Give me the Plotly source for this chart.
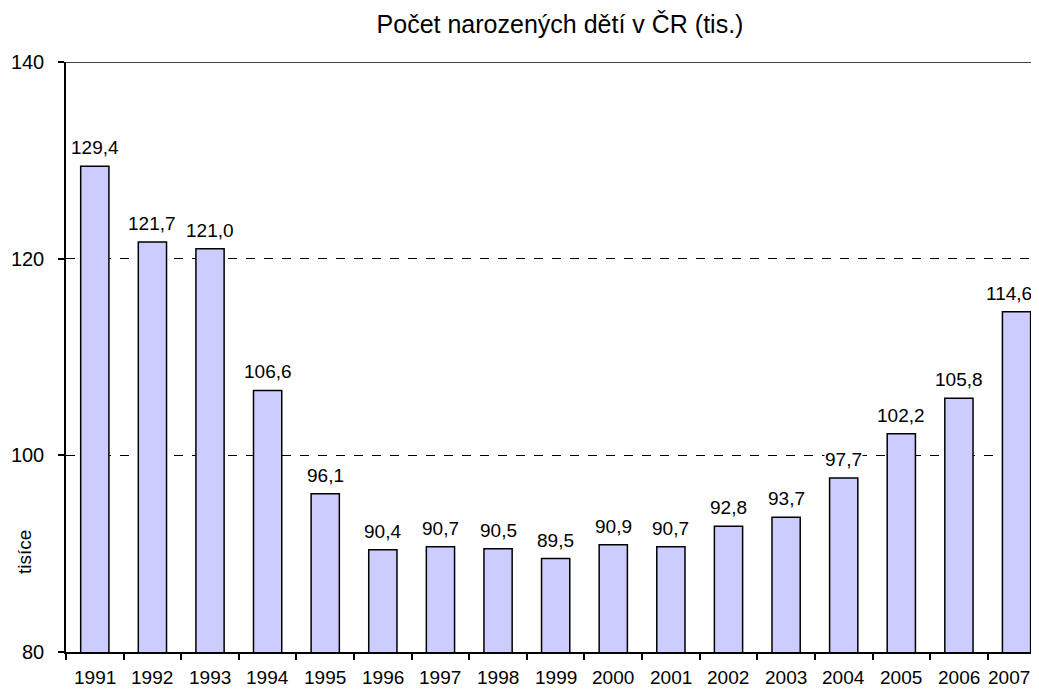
import plotly.graph_objects as go

years = ["1991", "1992", "1993", "1994", "1995", "1996", "1997", "1998", "1999",
         "2000", "2001", "2002", "2003", "2004", "2005", "2006", "2007"]
births = [129.4, 121.7, 121.0, 106.6, 96.1, 90.4, 90.7, 90.5, 89.5,
          90.9, 90.7, 92.8, 93.7, 97.7, 102.2, 105.8, 114.6]
y_ticks = [80, 100, 120, 140]

FONT = "Liberation Sans, Arial, sans-serif"
OFF = 8  # default body margin of the html page
FIG_W = 1039 - OFF
FIG_H = 696 - 2 * OFF
LAST = len(years) - 1

fig = go.Figure()
fig.add_trace(go.Bar(
    x=years, y=births,
    marker=dict(color="#CCCCFF", line=dict(color="#000000", width=1.5)),
    hoverinfo="x+y",
))

# value labels
for i, v in enumerate(births):
    fig.add_annotation(
        x=i, y=v, xref="x", yref="y",
        text=f"{v:.1f}".replace(".", ","),
        showarrow=False, yanchor="bottom", yshift=7,
        xshift=-8 if i == LAST else 0,
        bgcolor="white", borderpad=0,
        font=dict(family=FONT, size=19, color="#000000"),
    )

# category (year) labels below the axis
for i, yr in enumerate(years):
    fig.add_annotation(
        x=i, y=0, xref="x", yref="paper",
        text=yr, showarrow=False, yanchor="middle", yshift=-25,
        xshift=-8 if i == LAST else 0,
        font=dict(family=FONT, size=19, color="#000000"),
    )

plot_w = 973
fig.add_annotation(
    x=(24 - 66) / plot_w, xref="paper", y=(652 - 552) / 590, yref="paper",
    xanchor="center", yanchor="middle",
    text="tisíce", textangle=-90, showarrow=False,
    font=dict(family=FONT, size=19, color="#000000"),
)

fig.add_shape(type="line", xref="paper", yref="y", x0=0, x1=1, y0=140, y1=140,
              line=dict(color="#000000", width=1.5))

fig.update_layout(
    width=FIG_W, height=FIG_H,
    margin=dict(l=66 - OFF, r=0, t=62 - OFF, b=FIG_H - (652 - OFF)),
    paper_bgcolor="white", plot_bgcolor="white",
    bargap=0.51,
    showlegend=False,
    title=dict(text="Počet narozených dětí v ČR (tis.)", x=(560 - OFF) / FIG_W,
               xanchor="center", y=1 - (24 - OFF) / FIG_H, yanchor="middle",
               font=dict(family=FONT, size=25, color="#000000")),
    font=dict(family=FONT, color="#000000"),
)
fig.update_xaxes(
    type="category", range=[-0.5, 16.39],
    tickson="boundaries", ticks="outside", ticklen=6, tickcolor="#000000", tickwidth=1.5,
    showticklabels=False,
    showline=True, linecolor="#000000", linewidth=1.5,
    showgrid=False,
)
fig.update_yaxes(
    range=[80, 140], tickvals=y_ticks,
    ticks="outside", ticklen=6, tickcolor="#000000", tickwidth=1.5,
    ticklabelstandoff=10,
    showline=True, linecolor="#000000", linewidth=1.5,
    showgrid=True, gridcolor="#000000", gridwidth=1, griddash="dash",
    zeroline=False, tickfont=dict(family=FONT, size=20, color="#000000"),
)

fig.write_html("out.html")
